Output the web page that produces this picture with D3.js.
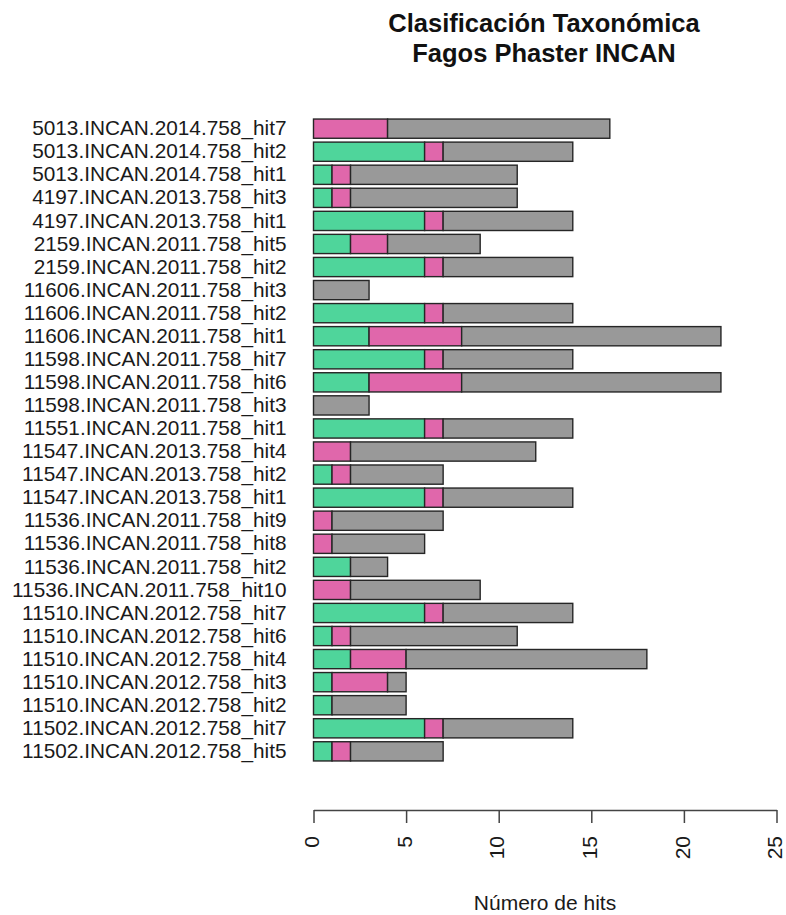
<!DOCTYPE html>
<html>
<head>
<meta charset="utf-8">
<script src="https://cdn.jsdelivr.net/npm/d3@7"></script>
<style>
  html, body { margin: 0; padding: 0; background: #ffffff; }
  svg { display: block; }
  text { font-family: "Liberation Sans", Arial, Helvetica, sans-serif; }
</style>
</head>
<body>
<svg id="chart" width="786" height="915"></svg>
<script>
// Phage hits per genome, listed top to bottom
const categories = [
  "5013.INCAN.2014.758_hit7",
  "5013.INCAN.2014.758_hit2",
  "5013.INCAN.2014.758_hit1",
  "4197.INCAN.2013.758_hit3",
  "4197.INCAN.2013.758_hit1",
  "2159.INCAN.2011.758_hit5",
  "2159.INCAN.2011.758_hit2",
  "11606.INCAN.2011.758_hit3",
  "11606.INCAN.2011.758_hit2",
  "11606.INCAN.2011.758_hit1",
  "11598.INCAN.2011.758_hit7",
  "11598.INCAN.2011.758_hit6",
  "11598.INCAN.2011.758_hit3",
  "11551.INCAN.2011.758_hit1",
  "11547.INCAN.2013.758_hit4",
  "11547.INCAN.2013.758_hit2",
  "11547.INCAN.2013.758_hit1",
  "11536.INCAN.2011.758_hit9",
  "11536.INCAN.2011.758_hit8",
  "11536.INCAN.2011.758_hit2",
  "11536.INCAN.2011.758_hit10",
  "11510.INCAN.2012.758_hit7",
  "11510.INCAN.2012.758_hit6",
  "11510.INCAN.2012.758_hit4",
  "11510.INCAN.2012.758_hit3",
  "11510.INCAN.2012.758_hit2",
  "11502.INCAN.2012.758_hit7",
  "11502.INCAN.2012.758_hit5"
];
const serieVerde = [0, 6, 1, 1, 6, 2, 6, 0, 6, 3, 6, 3, 0, 6, 0, 1, 6, 0, 0, 2, 0, 6, 1, 2, 1, 1, 6, 1];
const serieRosa  = [4, 1, 1, 1, 1, 2, 1, 0, 1, 5, 1, 5, 0, 1, 2, 1, 1, 1, 1, 0, 2, 1, 1, 3, 3, 0, 1, 1];
const serieGris  = [12, 7, 9, 9, 7, 5, 7, 3, 7, 14, 7, 14, 3, 7, 10, 5, 7, 6, 5, 2, 7, 7, 9, 13, 1, 4, 7, 5];
const seriesKeys = ["verde", "rosa", "gris"];
const seriesColors = ["#4fd59b", "#e067ab", "#999999"];
const xTicks = [0, 5, 10, 15, 20, 25];
const titleLines = ["Clasificación Taxonómica", "Fagos Phaster INCAN"];
const xTitle = "Número de hits";

const rows = categories.map((c, i) => ({
  name: c, verde: serieVerde[i], rosa: serieRosa[i], gris: serieGris[i]
}));

const svg = d3.select("#chart");

const x = d3.scaleLinear().domain([0, 25]).range([313.5, 776.5]);
const y = d3.scaleBand()
  .domain(categories)
  .range([115.2, 764.8])
  .paddingInner(1 / 6)
  .paddingOuter(1 / 6);

const color = d3.scaleOrdinal().domain(seriesKeys).range(seriesColors);
const stacked = d3.stack().keys(seriesKeys)(rows);

// stacked bars
svg.append("g")
  .selectAll("g")
  .data(stacked)
  .join("g")
  .attr("fill", d => color(d.key))
  .selectAll("rect")
  .data(d => d.filter(s => s[1] > s[0]))
  .join("rect")
  .attr("x", d => x(d[0]))
  .attr("y", d => y(d.data.name))
  .attr("width", d => x(d[1]) - x(d[0]))
  .attr("height", y.bandwidth())
  .attr("stroke", "#262626")
  .attr("stroke-width", 1.4);

// category labels
const yAxis = svg.append("g")
  .attr("transform", "translate(313.5,0)")
  .call(d3.axisLeft(y).tickSize(0).tickPadding(27));
yAxis.select(".domain").remove();
yAxis.selectAll("text")
  .attr("font-size", 20.8)
  .attr("fill", "#1a1a1a")
  .style("font-family", "'Liberation Sans', Arial, sans-serif");

// value axis
const xAxis = svg.append("g")
  .attr("transform", "translate(0,810)")
  .call(d3.axisBottom(x).tickValues(xTicks).tickSize(13).tickSizeOuter(0));
xAxis.select(".domain").attr("stroke", "#444").attr("stroke-width", 1.5);
xAxis.selectAll(".tick line").attr("stroke", "#444").attr("stroke-width", 1.5);
xAxis.selectAll(".tick text")
  .attr("font-size", 21)
  .attr("fill", "#1a1a1a")
  .attr("transform", "rotate(-90)")
  .attr("x", -26)
  .attr("y", 0)
  .attr("dy", "0.25em")
  .attr("text-anchor", "end")
  .style("font-family", "'Liberation Sans', Arial, sans-serif");

// axis title
svg.append("text")
  .attr("x", 545)
  .attr("y", 910)
  .attr("text-anchor", "middle")
  .attr("font-size", 21)
  .attr("fill", "#1a1a1a")
  .text(xTitle);

// chart title
svg.append("g")
  .selectAll("text")
  .data(titleLines)
  .join("text")
  .attr("x", 544)
  .attr("y", (d, i) => 32 + i * 30)
  .attr("text-anchor", "middle")
  .attr("font-size", 25.5)
  .attr("font-weight", "bold")
  .attr("fill", "#111")
  .text(d => d);
</script>
</body>
</html>
